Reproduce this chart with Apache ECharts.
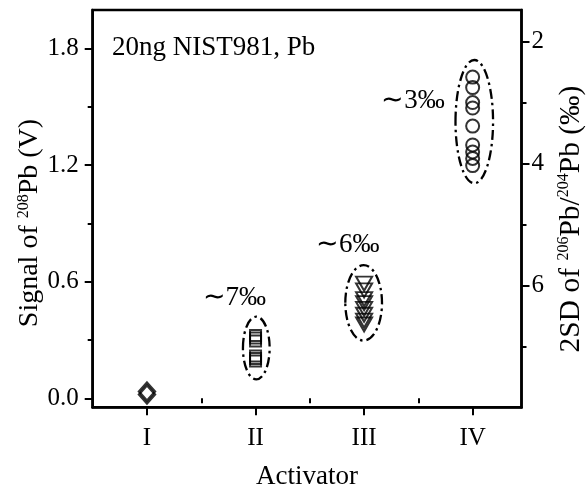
<!DOCTYPE html>
<html>
<head>
<meta charset="utf-8">
<script src="https://cdn.jsdelivr.net/npm/echarts@6/dist/echarts.min.js"></script>
<style>html,body{margin:0;padding:0;background:#fff;overflow:hidden}#c{width:587px;height:491px}</style>
</head>
<body>
<div id="c"></div>
<script>
// ---- data ----
const categories = ['I', 'II', 'III', 'IV'];
const signalI = [0.035, 0.02];
const signalII = [0.323, 0.31, 0.295, 0.218, 0.205, 0.192];
const signalIII = [0.59, 0.555, 0.51, 0.49, 0.46, 0.43, 0.40, 0.38];
const signalIV = [1.652, 1.598, 1.521, 1.493, 1.400, 1.303, 1.267, 1.234, 1.197];
const leftTicks = [0, 0.6, 1.2, 1.8];
const leftMinor = [0.3, 0.9, 1.5];
const rightTicks = [2, 4, 6];
const rightMinor = [3, 5, 7];
const xTicks = [1, 2, 3, 4];
const xMinor = [1.5, 2.5, 3.5];
// ellipse groups: [x, y, rx, ry] in data units
const ellipses = [[2.007, 0.259, 0.123, 0.161], [2.996, 0.491, 0.169, 0.194], [4.015, 1.423, 0.173, 0.317]];
const notes = ['\u223C7\u2030', '\u223C6\u2030', '\u223C3\u2030'];
const noteAnchors = [[1.805, 0.518], [2.849, 0.789], [3.45, 1.529]];

const FONT = 'Liberation Serif';
const chart = echarts.init(document.getElementById('c'), null, {renderer: 'canvas'});

const pts = (x, arr) => arr.map(v => [x, v]);
const hollow = {color: 'rgba(0,0,0,0)', borderColor: '#000', borderWidth: 2};

const axisLineStyle = {show: true, onZero: false, lineStyle: {color: '#000', width: 2.5}};
const supStyle = {fontFamily: FONT, fontSize: 16, color: '#000', fill: '#000', verticalAlign: 'top'};

chart.setOption({
  animation: false,
  grid: {left: 92.7, right: 65.5, top: 10, bottom: 83.7, show: true, borderColor: '#000', borderWidth: 2.5,
    backgroundColor: 'rgba(0,0,0,0)', containLabel: false, outerBoundsMode: 'none'},
  xAxis: [
    {
      type: 'value', min: 0.5, max: 4.45, position: 'bottom',
      name: 'Activator', nameLocation: 'middle', nameGap: 56,
      nameTextStyle: {fontFamily: FONT, fontSize: 27, color: '#000'},
      axisLine: axisLineStyle,
      axisTick: {show: true, customValues: xTicks, length: 8, lineStyle: {color: '#000', width: 2}},
      axisLabel: {customValues: xTicks, margin: 19, fontFamily: FONT, fontSize: 25, color: '#000',
        formatter: v => categories[Math.round(v) - 1] || ''},
      splitLine: {show: false}
    },
    {
      type: 'value', min: 0.5, max: 4.45, position: 'bottom',
      axisLine: {show: false},
      axisTick: {show: true, customValues: xMinor, length: 5, lineStyle: {color: '#000', width: 2}},
      axisLabel: {show: false}, splitLine: {show: false}
    }
  ],
  yAxis: [
    {
      type: 'value', min: -0.046, max: 1.997, position: 'left',
      axisLine: axisLineStyle,
      axisTick: {show: true, customValues: leftTicks, length: 8, lineStyle: {color: '#000', width: 2}},
      axisLabel: {customValues: leftTicks, margin: 14, fontFamily: FONT, fontSize: 25, color: '#000',
        formatter: v => v.toFixed(1)},
      splitLine: {show: false}
    },
    {
      type: 'value', min: 1.48, max: 8.0, inverse: true, position: 'right',
      axisLine: axisLineStyle,
      axisTick: {show: true, customValues: rightTicks, length: 8, lineStyle: {color: '#000', width: 2}},
      axisLabel: {customValues: rightTicks, margin: 10, fontFamily: FONT, fontSize: 25, color: '#000',
        formatter: v => String(v)},
      splitLine: {show: false}
    },
    {
      type: 'value', min: -0.046, max: 1.997, position: 'left',
      axisLine: {show: false},
      axisTick: {show: true, customValues: leftMinor, length: 5, lineStyle: {color: '#000', width: 2}},
      axisLabel: {show: false}, splitLine: {show: false}
    },
    {
      type: 'value', min: 1.48, max: 8.0, inverse: true, position: 'right',
      axisLine: {show: false},
      axisTick: {show: true, customValues: rightMinor, length: 5, lineStyle: {color: '#000', width: 2}},
      axisLabel: {show: false}, splitLine: {show: false}
    }
  ],
  graphic: [
    {type: 'text', left: 112, top: 34, style: {text: '20ng NIST981, Pb', font: '27px "Liberation Serif"', fill: '#000'}},
    {type: 'text', x: 30, y: 223, rotation: Math.PI / 2,
      style: {text: 'Signal of {sup|208}Pb (V)', fontFamily: FONT, fontSize: 28, fill: '#000',
        align: 'center', verticalAlign: 'middle', rich: {sup: supStyle}}},
    {type: 'text', x: 571, y: 219, rotation: Math.PI / 2,
      style: {text: '2SD of {sup|206}Pb/{sup|204}Pb (\u2030)', fontFamily: FONT, fontSize: 29.5, fill: '#000',
        align: 'center', verticalAlign: 'middle', rich: {sup: supStyle}}}
  ],
  series: [
    {type: 'scatter', name: 'I', data: pts(1, signalI), symbol: 'diamond', symbolSize: [16, 18],
      itemStyle: {color: 'rgba(0,0,0,0)', borderColor: '#000', borderWidth: 2.4}, z: 5},
    {type: 'scatter', name: 'II', data: pts(2, signalII), symbol: 'rect', symbolSize: 11, itemStyle: hollow, z: 5},
    {type: 'scatter', name: 'III', data: pts(3, signalIII), symbol: 'triangle', symbolRotate: 180, symbolSize: [16, 14], itemStyle: hollow, z: 5},
    {type: 'scatter', name: 'IV', data: pts(4, signalIV), symbol: 'circle', symbolSize: 13, itemStyle: hollow, z: 5},
    {
      type: 'custom', name: 'ellipses', data: ellipses, encode: {x: 0, y: 1}, z: 4,
      renderItem: (params, api) => {
        const c = api.coord([api.value(0), api.value(1)]);
        const s = api.size([api.value(2), api.value(3)]);
        return {type: 'ellipse', shape: {cx: c[0], cy: c[1], rx: s[0], ry: s[1]},
          style: {fill: 'none', stroke: '#000', lineWidth: 2.3, lineDash: [10, 4, 2.5, 4]}};
      }
    },
    {
      type: 'custom', name: 'notes', data: noteAnchors.map((p, i) => ({value: p, name: notes[i]})), encode: {x: 0, y: 1}, z: 6,
      renderItem: (params, api) => {
        const c = api.coord([api.value(0), api.value(1)]);
        return {type: 'text', x: c[0], y: c[1],
          style: {text: notes[params.dataIndex], font: '27px "Liberation Serif"', fill: '#000', align: 'center', verticalAlign: 'middle'}};
      }
    }
  ]
});
</script>
</body>
</html>
